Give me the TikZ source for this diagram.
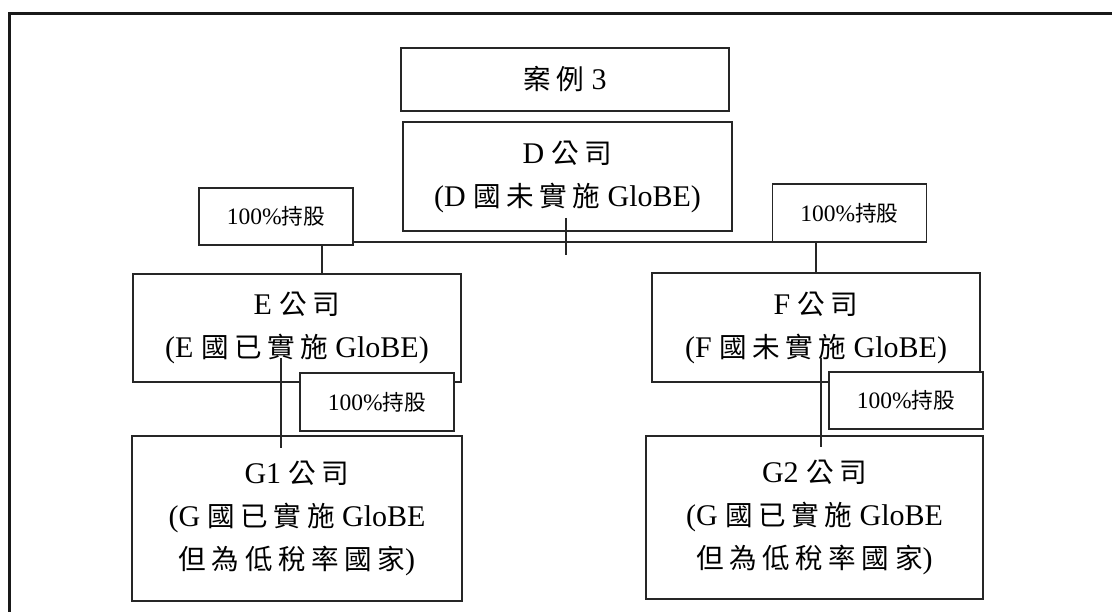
\documentclass[tikz,border=0pt]{standalone}
\usepackage{fontspec}
\setmainfont{Liberation Serif}
\newfontfamily\cjkplain[Scale=0.92]{Noto Sans CJK TC}
\newfontfamily\cjkspaced[Scale=0.92,LetterSpace=20]{Noto Sans CJK TC}
\newcommand\zs[1]{{\cjkspaced #1}}
\newcommand\zp[1]{{\cjkplain #1}}
\newcommand\bigtxt{\fontsize{30}{43}\selectfont}
\newcommand\smalltxt{\fontsize{23.5}{27}\selectfont}
\begin{document}
\begin{tikzpicture}[x=1pt,y=-1pt,
  box/.style={draw=black!85,line width=1.2pt,fill=white,inner sep=0pt,align=center,font=\bigtxt},
  sharebox/.style={draw=black!85,line width=1.2pt,fill=white,inner sep=0pt,align=center,font=\smalltxt,minimum width=154pt,minimum height=57pt},
  link/.style={draw=black!85,line width=1.5pt}]
\useasboundingbox (0,0) rectangle (1112,612);
\begin{scope}
\clip (0,0) rectangle (1112,612);
\draw[line width=3pt,black!90] (9,14) rectangle (1140,650);
\end{scope}

\node[box,minimum width=328pt,minimum height=63pt] (case) at (565,79.5) {\zs{案例} 3};
\node[box,minimum width=329pt,minimum height=109pt] (D) at (567.5,176.5) {D \zs{公司}\\(D \zs{國未實施} GloBE)};
\node[sharebox] (L1) at (276,216.5) {100\%\zp{持股}};
\node[sharebox,minimum height=58pt] (R1) at (849.5,213) {100\%\zp{持股}};
\node[box,minimum width=328pt,minimum height=108pt] (E) at (297,328) {E \zs{公司}\\(E \zs{國已實施} GloBE)};
\node[box,minimum width=328pt,minimum height=109pt] (F) at (816,327.5) {F \zs{公司}\\(F \zs{國未實施} GloBE)};
\node[sharebox,minimum height=58pt] (L2) at (377,402) {100\%\zp{持股}};
\node[sharebox] (R2) at (906,400.5) {100\%\zp{持股}};
\node[box,minimum width=330pt,minimum height=165pt] (G1) at (297,518.5) {G1 \zs{公司}\\(G \zs{國已實施} GloBE\\\zs{但為低稅率國家})};
\node[box,minimum width=337pt,minimum height=163pt] (G2) at (814.5,517.5) {G2 \zs{公司}\\(G \zs{國已實施} GloBE\\\zs{但為低稅率國家})};

\coordinate (hline) at (0,242);
\coordinate (dtop) at (566,218);
\coordinate (dbot) at (566,255);
\coordinate (ldrop) at (322,0);
\coordinate (etop) at (281,358);
\coordinate (ebot) at (281,448);
\coordinate (ftop) at (821,358);
\coordinate (fbot) at (821,447);

\draw[link] (L1.east |- hline) -- (R1.west |- hline);
\draw[link] (dtop) -- (dbot);
\draw[link] (L1.south -| ldrop) -- (E.north -| ldrop);
\draw[link] (R1.south -| F.north) -- (F.north);
\draw[link] (etop) -- (ebot);
\draw[link] (ftop) -- (fbot);
\end{tikzpicture}
\end{document}
